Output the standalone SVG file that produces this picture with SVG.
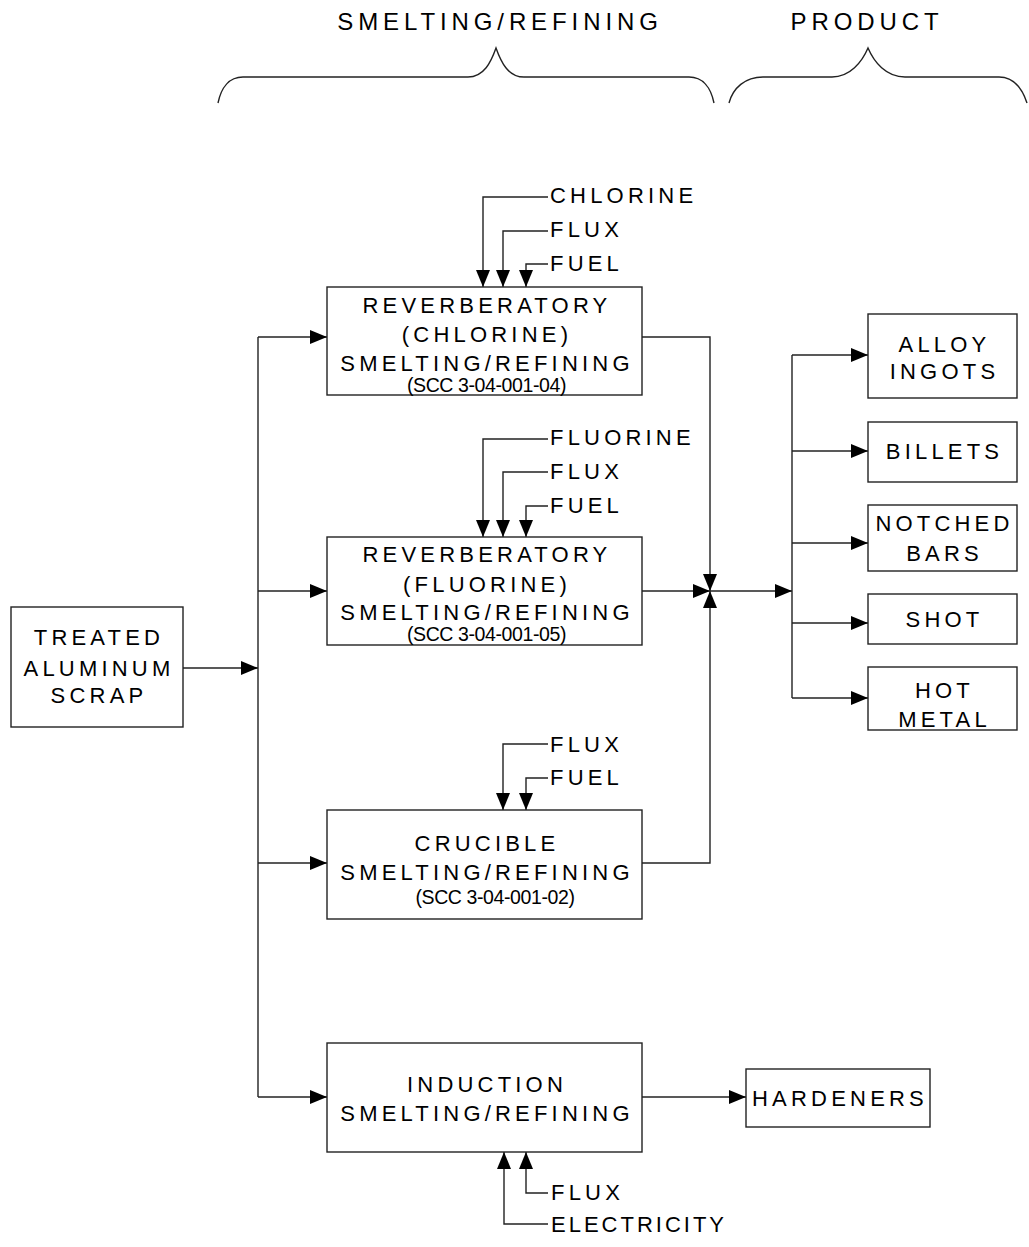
<svg xmlns="http://www.w3.org/2000/svg" width="1029" height="1247" viewBox="0 0 1029 1247">
<style>
.box{fill:#fff;stroke:#222;stroke-width:1.4}
.ln{fill:none;stroke:#222;stroke-width:1.4}
.t{font-family:"Liberation Sans",Arial,sans-serif;font-size:22px;letter-spacing:4.2px;fill:#000;text-anchor:middle}
.tl{font-family:"Liberation Sans",Arial,sans-serif;font-size:22px;letter-spacing:4.2px;fill:#000}
.h{font-family:"Liberation Sans",Arial,sans-serif;font-size:24px;letter-spacing:4.9px;fill:#000;text-anchor:middle}
.scc{font-family:"Liberation Sans",Arial,sans-serif;font-size:19.5px;letter-spacing:-0.4px;fill:#000;text-anchor:middle}
</style>
<defs>
<marker id="ah" markerUnits="userSpaceOnUse" markerWidth="17" markerHeight="14" refX="17" refY="7" orient="auto">
<path d="M0,0 L17,7 L0,14 z" fill="#000"/>
</marker>
</defs>

<g id="braces">
<path class="ln" d="M218,103 C221,88 229,77 243,77 L468,77 C484,77 491,62 496,48 C501,62 508,77 524,77 L689,77 C703,77 711,88 714,103"/>
<path class="ln" d="M729,103 C733,88 745,77 763,77 L832,77 C850,77 862,62 868,48 C874,62 886,77 905,77 L999,77 C1013,77 1022,88 1027,103"/>
<text class="h" x="500" y="30">SMELTING/REFINING</text>
<text class="h" x="867" y="30">PRODUCT</text>
</g>

<g id="connectors">
<path class="ln" d="M183,668 H258" marker-end="url(#ah)"/>
<path class="ln" d="M258,337 V1097"/>
<path class="ln" d="M258,337 H327" marker-end="url(#ah)"/>
<path class="ln" d="M258,591 H327" marker-end="url(#ah)"/>
<path class="ln" d="M258,863 H327" marker-end="url(#ah)"/>
<path class="ln" d="M258,1097 H327" marker-end="url(#ah)"/>
<path class="ln" d="M548,197 H483 V287" marker-end="url(#ah)"/>
<path class="ln" d="M548,231 H503 V287" marker-end="url(#ah)"/>
<path class="ln" d="M548,264 H526 V287" marker-end="url(#ah)"/>
<path class="ln" d="M548,439 H483 V537" marker-end="url(#ah)"/>
<path class="ln" d="M548,472 H503 V537" marker-end="url(#ah)"/>
<path class="ln" d="M548,506 H526 V537" marker-end="url(#ah)"/>
<path class="ln" d="M548,744 H503 V810" marker-end="url(#ah)"/>
<path class="ln" d="M548,778 H526 V810" marker-end="url(#ah)"/>
<path class="ln" d="M548,1193 H526 V1152" marker-end="url(#ah)"/>
<path class="ln" d="M548,1224 H504 V1152" marker-end="url(#ah)"/>
<path class="ln" d="M642,337 H710 V591" marker-end="url(#ah)"/>
<path class="ln" d="M642,591 H710" marker-end="url(#ah)"/>
<path class="ln" d="M642,863 H710 V591" marker-end="url(#ah)"/>
<path class="ln" d="M710,591 H792" marker-end="url(#ah)"/>
<path class="ln" d="M792,355 V698"/>
<path class="ln" d="M792,355 H868" marker-end="url(#ah)"/>
<path class="ln" d="M792,451 H868" marker-end="url(#ah)"/>
<path class="ln" d="M792,543 H868" marker-end="url(#ah)"/>
<path class="ln" d="M792,623 H868" marker-end="url(#ah)"/>
<path class="ln" d="M792,698 H868" marker-end="url(#ah)"/>
<path class="ln" d="M642,1097 H746" marker-end="url(#ah)"/>
</g>

<g id="scrap">
<rect class="box" x="11" y="607" width="172" height="120"/>
<text class="t" x="99" y="645">TREATED</text>
<text class="t" x="99" y="676">ALUMINUM</text>
<text class="t" x="99" y="703">SCRAP</text>
</g>

<g id="reverb-chlorine">
<rect class="box" x="327" y="287" width="315" height="108"/>
<text class="t" x="487" y="313">REVERBERATORY</text>
<text class="t" x="487" y="342">(CHLORINE)</text>
<text class="t" x="487" y="371">SMELTING/REFINING</text>
<text class="scc" x="486.5" y="392">(SCC 3-04-001-04)</text>
</g>
<g id="in-chlorine"><text class="tl" x="550" y="203">CHLORINE</text></g>
<g id="in-flux1"><text class="tl" x="550" y="237">FLUX</text></g>
<g id="in-fuel1"><text class="tl" x="550" y="271">FUEL</text></g>

<g id="reverb-fluorine">
<rect class="box" x="327" y="537" width="315" height="108"/>
<text class="t" x="487" y="562">REVERBERATORY</text>
<text class="t" x="487" y="592">(FLUORINE)</text>
<text class="t" x="487" y="620">SMELTING/REFINING</text>
<text class="scc" x="486.5" y="641">(SCC 3-04-001-05)</text>
</g>
<g id="in-fluorine"><text class="tl" x="550" y="445">FLUORINE</text></g>
<g id="in-flux2"><text class="tl" x="550" y="479">FLUX</text></g>
<g id="in-fuel2"><text class="tl" x="550" y="513">FUEL</text></g>

<g id="crucible">
<rect class="box" x="327" y="810" width="315" height="109"/>
<text class="t" x="487" y="851">CRUCIBLE</text>
<text class="t" x="487" y="880">SMELTING/REFINING</text>
<text class="scc" x="495" y="904">(SCC 3-04-001-02)</text>
</g>
<g id="in-flux3"><text class="tl" x="550" y="752">FLUX</text></g>
<g id="in-fuel3"><text class="tl" x="550" y="785">FUEL</text></g>

<g id="induction">
<rect class="box" x="327" y="1043" width="315" height="109"/>
<text class="t" x="487" y="1092">INDUCTION</text>
<text class="t" x="487" y="1121">SMELTING/REFINING</text>
</g>
<g id="in-flux4"><text class="tl" x="551" y="1200">FLUX</text></g>
<g id="in-electricity"><text class="tl" x="551" y="1232" style="letter-spacing:3px">ELECTRICITY</text></g>

<g id="hardeners">
<rect class="box" x="746" y="1069" width="184" height="58"/>
<text class="t" x="840" y="1106">HARDENERS</text>
</g>

<g id="alloy-ingots">
<rect class="box" x="868" y="314" width="149" height="84"/>
<text class="t" x="944.5" y="352">ALLOY</text>
<text class="t" x="944.5" y="379">INGOTS</text>
</g>
<g id="billets">
<rect class="box" x="868" y="422" width="149" height="60"/>
<text class="t" x="944.5" y="459">BILLETS</text>
</g>
<g id="notched-bars">
<rect class="box" x="868" y="505" width="149" height="66"/>
<text class="t" x="944.5" y="531">NOTCHED</text>
<text class="t" x="944.5" y="561">BARS</text>
</g>
<g id="shot">
<rect class="box" x="868" y="594" width="149" height="50"/>
<text class="t" x="944.5" y="627">SHOT</text>
</g>
<g id="hot-metal">
<rect class="box" x="868" y="667" width="149" height="63"/>
<text class="t" x="944.5" y="698">HOT</text>
<text class="t" x="944.5" y="727">METAL</text>
</g>
</svg>
